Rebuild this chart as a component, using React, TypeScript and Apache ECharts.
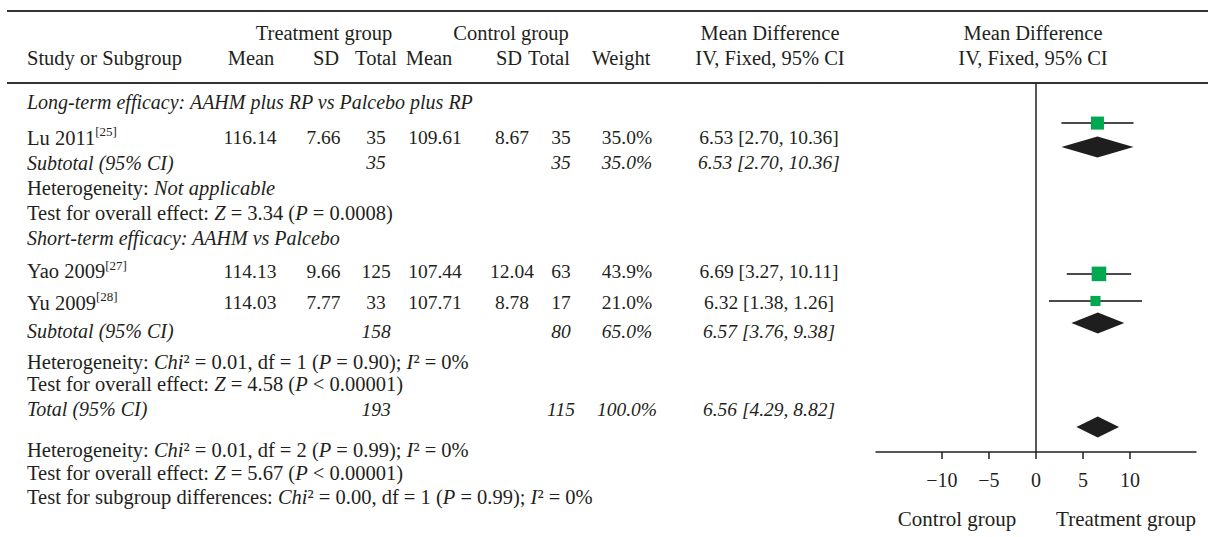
import React, { useEffect, useRef } from "react";
import * as echarts from "echarts";

// ---------------- data ----------------
const groupTitles = [
  "Long-term efficacy: AAHM plus RP vs Palcebo plus RP",
  "Short-term efficacy: AAHM vs Palcebo",
];
const studyNames = ["Lu 2011", "Yao 2009", "Yu 2009"];
const studyRefs = ["[25]", "[27]", "[28]"];
const treatMean = ["116.14", "114.13", "114.03"];
const treatSD = ["7.66", "9.66", "7.77"];
const treatTotal = ["35", "125", "33"];
const ctrlMean = ["109.61", "107.44", "107.71"];
const ctrlSD = ["8.67", "12.04", "8.78"];
const ctrlTotal = ["35", "63", "17"];
const studyWeight = [35.0, 43.9, 21.0];
const studyMD = [6.53, 6.69, 6.32];
const studyLow = [2.7, 3.27, 1.38];
const studyHigh = [10.36, 10.11, 11.26];
const studyCIText = ["6.53 [2.70, 10.36]", "6.69 [3.27, 10.11]", "6.32 [1.38, 1.26]"];

const pooledNames = ["Subtotal (95% CI)", "Subtotal (95% CI)", "Total (95% CI)"];
const pooledTreatTotal = ["35", "158", "193"];
const pooledCtrlTotal = ["35", "80", "115"];
const pooledWeight = ["35.0%", "65.0%", "100.0%"];
const pooledMD = [6.53, 6.57, 6.56];
const pooledLow = [2.7, 3.76, 4.29];
const pooledHigh = [10.36, 9.38, 8.82];

const hetChi2 = ["0.01", "0.01"];
const hetDf = ["1", "2"];
const hetP = ["0.90", "0.99"];
const hetI2 = ["0%", "0%"];
const overallZ = ["3.34", "4.58", "5.67"];
const overallP = ["= 0.0008", "< 0.00001", "< 0.00001"];
const subgroupStats = ["0.00", "1", "0.99", "0%"]; // Chi2, df, P, I2

const axisTicks = [-10, -5, 0, 5, 10];
const axisSides = ["Control group", "Treatment group"];

// ---------------- layout ----------------
const FONT = '"Liberation Serif", "Times New Roman", serif';
const INK = "#231f20";
const FS_WORD = 20.5;
const FS_ITAL = 20;
const FS_NUM = 19.5;
const ROW = {
  h1: 33, h2: 58, g1: 102, lu: 137.5, sub1: 162.5, het1: 187.5, test1: 212.5,
  g2: 238, yao: 271, yu: 302.5, sub2: 331, het2: 362, test2: 384, total: 409,
  het3: 450, test3: 473, subg: 497,
};
const COLX = { label: 27, tMean: 250, tSD: 323.5, tTot: 376, cMean: 435, cSD: 512, cTot: 561, weight: 627, ci: 769 };
const HEADX = { tMean: 251, tSD: 326, tTot: 376, cMean: 429, cSD: 509, cTot: 549, weight: 621, ci: 770, plot: 1033, tGroup: 324, cGroup: 511 };
const studyRowY = [ROW.lu, ROW.yao, ROW.yu];
const pooledRowY = [ROW.sub1, ROW.sub2, ROW.total];
// positions of plotted marks in y-axis units (axis spans 0..15 rows)
const studySlot = [1.63, 7.76, 8.86];
const pooledSlot = [2.6, 9.76, 13.98];

const RICH: any = {
  n: { fontSize: FS_WORD, fontFamily: FONT, fill: INK },
  i: { fontSize: FS_WORD, fontFamily: FONT, fill: INK, fontStyle: "italic" },
  s: { fontSize: 13, fontFamily: FONT, fill: INK, padding: [0, 0, 12, 0] },
};

function txt(text: string, x: number, y: number, align = "left", size = FS_WORD, italic = false) {
  return {
    type: "text",
    x,
    y,
    silent: true,
    style: {
      text,
      fill: INK,
      fontSize: size,
      fontFamily: FONT,
      fontStyle: italic ? "italic" : "normal",
      align,
      verticalAlign: "middle",
      rich: RICH,
    },
  };
}

function hetLine(k: number) {
  return `{n|Heterogeneity: }{i|Chi}{n|² = ${hetChi2[k]}, df = ${hetDf[k]} (}{i|P}{n| = ${hetP[k]}); }{i|I}{n|² = ${hetI2[k]}}`;
}
function testLine(k: number) {
  return `{n|Test for overall effect: }{i|Z}{n| = ${overallZ[k]} (}{i|P}{n| ${overallP[k]})}`;
}

function buildGraphics() {
  const g: any[] = [];
  // rules
  g.push({ type: "line", silent: true, shape: { x1: 7, y1: 11, x2: 1208, y2: 11 }, style: { stroke: "#333", lineWidth: 2 } });
  g.push({ type: "line", silent: true, shape: { x1: 7, y1: 83, x2: 1208, y2: 83 }, style: { stroke: "#333", lineWidth: 2 } });
  // headers
  g.push(txt("Treatment group", HEADX.tGroup, ROW.h1, "center"));
  g.push(txt("Control group", HEADX.cGroup, ROW.h1, "center"));
  g.push(txt("Mean Difference", HEADX.ci, ROW.h1, "center"));
  g.push(txt("IV, Fixed, 95% CI", HEADX.ci, ROW.h2, "center"));
  g.push(txt("Mean Difference", HEADX.plot, ROW.h1, "center"));
  g.push(txt("IV, Fixed, 95% CI", HEADX.plot, ROW.h2, "center"));
  g.push(txt("Study or Subgroup", COLX.label, ROW.h2));
  g.push(txt("Mean", HEADX.tMean, ROW.h2, "center"));
  g.push(txt("SD", HEADX.tSD, ROW.h2, "center"));
  g.push(txt("Total", HEADX.tTot, ROW.h2, "center"));
  g.push(txt("Mean", HEADX.cMean, ROW.h2, "center"));
  g.push(txt("SD", HEADX.cSD, ROW.h2, "center"));
  g.push(txt("Total", HEADX.cTot, ROW.h2, "center"));
  g.push(txt("Weight", HEADX.weight, ROW.h2, "center"));

  // group titles
  g.push(txt(groupTitles[0], COLX.label, ROW.g1, "left", FS_ITAL, true));
  g.push(txt(groupTitles[1], COLX.label, ROW.g2, "left", FS_ITAL, true));

  // study rows
  studyNames.forEach((name, i) => {
    const y = studyRowY[i];
    g.push(txt(`{n|${name}}{s|${studyRefs[i]}}`, COLX.label, y));
    g.push(txt(treatMean[i], COLX.tMean, y, "center", FS_NUM));
    g.push(txt(treatSD[i], COLX.tSD, y, "center", FS_NUM));
    g.push(txt(treatTotal[i], COLX.tTot, y, "center", FS_NUM));
    g.push(txt(ctrlMean[i], COLX.cMean, y, "center", FS_NUM));
    g.push(txt(ctrlSD[i], COLX.cSD, y, "center", FS_NUM));
    g.push(txt(ctrlTotal[i], COLX.cTot, y, "center", FS_NUM));
    g.push(txt(studyWeight[i].toFixed(1) + "%", COLX.weight, y, "center", FS_NUM));
    g.push(txt(studyCIText[i], COLX.ci, y, "center", FS_NUM));
  });

  // pooled rows
  pooledNames.forEach((name, i) => {
    const y = pooledRowY[i];
    g.push(txt(name, COLX.label, y, "left", FS_ITAL, true));
    g.push(txt(pooledTreatTotal[i], COLX.tTot, y, "center", FS_NUM, true));
    g.push(txt(pooledCtrlTotal[i], COLX.cTot, y, "center", FS_NUM, true));
    g.push(txt(pooledWeight[i], COLX.weight, y, "center", FS_NUM, true));
    g.push(
      txt(
        `${pooledMD[i].toFixed(2)} [${pooledLow[i].toFixed(2)}, ${pooledHigh[i].toFixed(2)}]`,
        COLX.ci,
        y,
        "center",
        FS_NUM,
        true
      )
    );
  });

  // statistics lines
  g.push(txt("{n|Heterogeneity: }{i|Not applicable}", COLX.label, ROW.het1));
  g.push(txt(testLine(0), COLX.label, ROW.test1));
  g.push(txt(hetLine(0), COLX.label, ROW.het2));
  g.push(txt(testLine(1), COLX.label, ROW.test2));
  g.push(txt(hetLine(1), COLX.label, ROW.het3));
  g.push(txt(testLine(2), COLX.label, ROW.test3));
  g.push(
    txt(
      `{n|Test for subgroup differences: }{i|Chi}{n|² = ${subgroupStats[0]}, df = ${subgroupStats[1]} (}{i|P}{n| = ${subgroupStats[2]}); }{i|I}{n|² = ${subgroupStats[3]}}`,
      COLX.label,
      ROW.subg
    )
  );

  // favours labels
  g.push(txt(axisSides[0], 957, 519, "center", 21));
  g.push(txt(axisSides[1], 1126, 519, "center", 21));
  return g;
}

export default function App() {
  const ref = useRef<HTMLDivElement>(null);

  useEffect(() => {
    if (!ref.current) return;
    const chart = echarts.init(ref.current, undefined, { renderer: "svg" });
    const option: any = {
      animation: false,
      backgroundColor: "#ffffff",
      grid: { left: 876, right: 12, top: 83, bottom: 85 },
      xAxis: {
        type: "value",
        min: -17,
        max: 17,
        splitLine: { show: false },
        axisLine: { show: true, onZero: false, lineStyle: { color: INK, width: 1.5 } },
        axisTick: { show: true, length: 7, customValues: axisTicks, lineStyle: { color: INK, width: 1.5 } },
        axisLabel: {
          customValues: axisTicks,
          margin: 18,
          fontSize: 20,
          fontFamily: FONT,
          color: INK,
          formatter: (v: number) => (v < 0 ? "\u2212" + Math.abs(v) : String(v)),
        },
      },
      yAxis: {
        type: "value",
        inverse: true,
        min: 0,
        max: 15,
        splitLine: { show: false },
        axisTick: { show: false },
        axisLabel: { show: false },
        axisLine: { show: true, onZero: true, lineStyle: { color: INK, width: 1.5 } },
      },
      graphic: buildGraphics(),
      series: [
        {
          type: "custom",
          name: "studies",
          data: studyMD.map((m, i) => [m, studySlot[i], studyLow[i], studyHigh[i], studyWeight[i]]),
          encode: { x: 0, y: 1 },
          renderItem: (_p: any, api: any) => {
            const r = api.value(1);
            const c = api.coord([api.value(0), r]);
            const a = api.coord([api.value(2), r]);
            const b = api.coord([api.value(3), r]);
            const s = 2.2 * Math.sqrt(api.value(4));
            return {
              type: "group",
              children: [
                {
                  type: "line",
                  shape: { x1: a[0], y1: a[1], x2: b[0], y2: b[1] },
                  style: { stroke: "#4a4a4a", lineWidth: 2 },
                },
                {
                  type: "rect",
                  shape: { x: c[0] - s / 2, y: c[1] - s / 2, width: s, height: s },
                  style: { fill: "#00a84f" },
                },
              ],
            };
          },
        },
        {
          type: "custom",
          name: "pooled",
          data: pooledMD.map((m, i) => [m, pooledSlot[i], pooledLow[i], pooledHigh[i]]),
          encode: { x: 0, y: 1 },
          renderItem: (_p: any, api: any) => {
            const r = api.value(1);
            const c = api.coord([api.value(0), r]);
            const a = api.coord([api.value(2), r]);
            const b = api.coord([api.value(3), r]);
            const h = 10.5;
            return {
              type: "polygon",
              shape: {
                points: [
                  [a[0], a[1]],
                  [c[0], c[1] - h],
                  [b[0], b[1]],
                  [c[0], c[1] + h],
                ],
              },
              style: { fill: "#1e1e1e" },
            };
          },
        },
      ],
    };
    chart.setOption(option);
    return () => chart.dispose();
  }, []);

  return (
    <div
      ref={ref}
      style={{ position: "fixed", left: 0, top: 0, width: 1208, height: 537, background: "#fff" }}
    />
  );
}
